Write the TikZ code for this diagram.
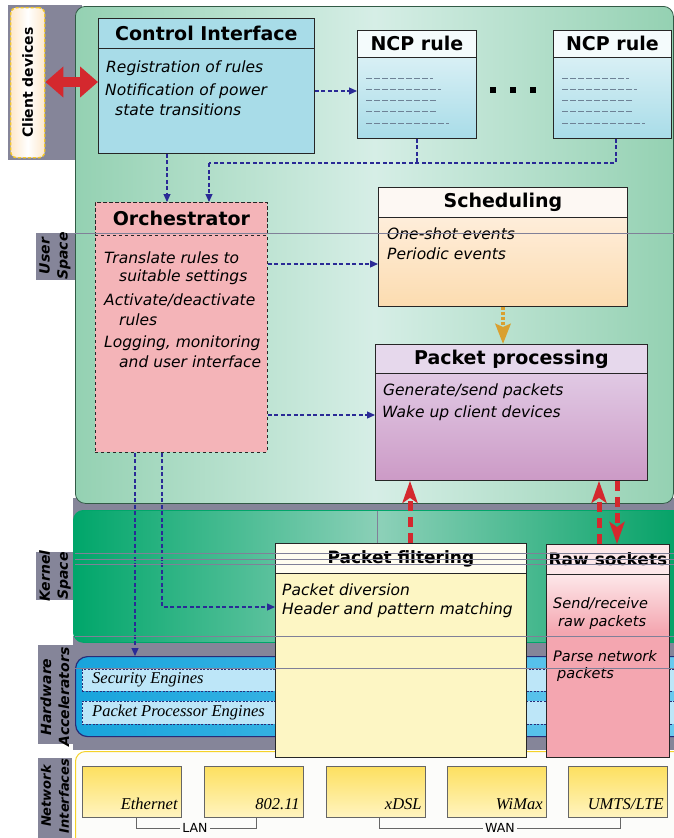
\documentclass[tikz,border=0pt]{standalone}
\usepackage{fontspec}
\setmainfont{DejaVu Sans}
\newfontfamily\serifit{Liberation Serif}
\usetikzlibrary{arrows.meta}
\definecolor{graybg}{RGB}{133,133,153}
\definecolor{ugreen}{RGB}{148,209,178}
\definecolor{ulight}{RGB}{214,238,230}
\definecolor{kgreen}{RGB}{0,166,106}
\definecolor{klight}{RGB}{140,208,184}
\definecolor{kright}{RGB}{0,160,100}
\definecolor{cifill}{RGB}{168,220,232}
\definecolor{ncptop}{RGB}{232,246,249}
\definecolor{ncptitle}{RGB}{244,251,252}
\definecolor{orchfill}{RGB}{244,180,184}
\definecolor{schedtitle}{RGB}{253,248,243}
\definecolor{schedtop}{RGB}{255,243,232}
\definecolor{schedbot}{RGB}{252,220,176}
\definecolor{pptitle}{RGB}{230,216,236}
\definecolor{pptop}{RGB}{230,214,236}
\definecolor{ppbot}{RGB}{204,154,198}
\definecolor{pftitle}{RGB}{255,253,240}
\definecolor{pffill}{RGB}{253,246,196}
\definecolor{rawtitle}{RGB}{253,232,234}
\definecolor{rawlight}{RGB}{252,214,218}
\definecolor{rawpink}{RGB}{244,166,176}
\definecolor{hwleft}{RGB}{24,164,220}
\definecolor{hwright}{RGB}{108,203,240}
\definecolor{hwrow}{RGB}{189,230,248}
\definecolor{navy}{RGB}{40,44,120}
\definecolor{nifill}{RGB}{252,252,250}
\definecolor{niborder}{RGB}{245,210,40}
\definecolor{niftop}{RGB}{253,224,96}
\definecolor{nifbot}{RGB}{255,244,192}
\definecolor{cdborder}{RGB}{245,200,40}
\definecolor{cdedge}{RGB}{253,232,204}
\definecolor{bigred}{RGB}{212,40,46}
\definecolor{arrblue}{RGB}{42,42,150}
\definecolor{orangearr}{RGB}{217,160,48}
\definecolor{ncpline}{RGB}{110,130,150}
\definecolor{artline}{RGB}{128,128,152}
\definecolor{panelline}{RGB}{50,90,70}
\begin{document}
\begin{tikzpicture}[x=1pt,y=-1pt,
  box/.style={draw=black!85, line width=0.8pt, anchor=north west, inner sep=0pt},
  ttl/.style={font=\fontsize{19}{21}\selectfont\bfseries},
  ttlsm/.style={font=\fontsize{17}{19}\selectfont\bfseries},
  txt/.style={font=\fontsize{15.5}{17}\selectfont\itshape, anchor=west, inner sep=0pt},
  txtsm/.style={font=\fontsize{14.5}{16}\selectfont\itshape, anchor=west, inner sep=0pt},
  sidelabel/.style={rotate=90, align=center, inner sep=0pt, font=\fontsize{14}{18}\selectfont\bfseries\itshape, text=black},
  serlabel/.style={font=\fontsize{16.5}{18}\selectfont\serifit\itshape, inner sep=0pt},
  panel/.style={anchor=north west, inner sep=0pt},
  bluedash/.style={draw=arrblue, line width=1.2pt, dash pattern=on 4pt off 2.5pt},
  bluearrow/.style={bluedash, -{Triangle[length=8pt,width=7pt]}},
  redarrow/.style={draw=bigred, line width=5pt, dash pattern=on 10pt off 6pt, -{Stealth[length=22pt,width=15pt,inset=5pt]}},
  orangearrow/.style={draw=orangearr, line width=4.5pt, dash pattern=on 3pt off 2pt, -{Stealth[length=20pt,width=15pt,inset=3pt]}},
  ncpdash/.style={draw=ncpline, line width=0.9pt, dash pattern=on 6pt off 2pt},
  artifact/.style={draw=artline, line width=0.8pt},
  bracket/.style={draw=black!60, line width=0.6pt}
]
\useasboundingbox (0,0) rectangle (674,838);
\fill[white] (0,0) rectangle (674,838);

% gray backgrounds
\fill[graybg] (8,5) rectangle (82,160);
\fill[graybg] (36,233) rectangle (78,280);
\fill[graybg] (73,498) rectangle (674,514);
\fill[graybg] (73,498) rectangle (80,548);
\fill[graybg] (36,552) rectangle (78,600);
\fill[graybg] (73,636) rectangle (674,750);
\fill[graybg] (38,645) rectangle (78,744);
\fill[graybg] (38,758) rectangle (72,838);

% layer panels
\node[panel, draw=panelline, line width=0.8pt, rounded corners=10pt, minimum width=598, minimum height=497,
      left color=ugreen, right color=ugreen, middle color=ulight] (user) at (75,6) {};
\node[panel, draw=kgreen, line width=0.8pt, rounded corners=10pt, minimum width=615, minimum height=132,
      left color=kgreen, right color=kright, middle color=klight] (kernel) at (73,510) {};
\node[panel, draw=navy, line width=1.2pt, rounded corners=12pt, minimum width=615, minimum height=80,
      left color=hwleft, right color=hwright] (hw) at (75,656) {};
\node[panel, draw=navy, line width=0.7pt, dash pattern=on 2pt off 1.5pt, fill=hwrow, minimum width=600, minimum height=22] (sec) at (82,669) {};
\node[panel, draw=navy, line width=0.7pt, dash pattern=on 2pt off 1.5pt, fill=hwrow, minimum width=600, minimum height=23] (ppe) at (82,701) {};
\node[serlabel, anchor=west] (sect) at (92,680) {Security Engines};
\node[serlabel, anchor=west] (ppet) at (92,713) {Packet Processor Engines};

\node[panel, draw=niborder, line width=1pt, rounded corners=10pt, fill=nifill, minimum width=615, minimum height=100] (ni) at (75,751) {};

% network interfaces
\foreach \nm/\xx/\lab in {eth/82/{Ethernet}, wifi/204/{802.11}, xdsl/326/{xDSL}, wimax/447/{WiMax}, umts/568/{UMTS/LTE}}{
  \node[panel, draw=black!60, line width=0.8pt, top color=niftop, bottom color=nifbot, minimum width=99, minimum height=51] (\nm) at (\xx,766) {};
  \node[serlabel, anchor=base east] (\nm t) at ([xshift=-4pt,yshift=8pt]\nm.south east) {\lab};
}
\node[font=\fontsize{12.5}{14}\selectfont, inner sep=2pt, fill=nifill] (lan) at (195,828) {LAN};
\node[font=\fontsize{12.5}{14}\selectfont, inner sep=2pt, fill=nifill] (wan) at (500,828) {WAN};
\draw[bracket] ([xshift=4pt]eth.south) |- (lan.west);
\draw[bracket] ([xshift=2pt]wifi.south) |- (lan.east);
\draw[bracket] ([xshift=3pt]xdsl.south) |- (wan.west);
\draw[bracket] ([xshift=2pt]umts.south) |- (wan.east);

% client devices
\node[panel, draw=cdborder, line width=1.4pt, dash pattern=on 3pt off 2pt, rounded corners=6pt,
      left color=cdedge, right color=cdedge, middle color=white, minimum width=34, minimum height=150] (cd) at (10,7) {};
\node[rotate=90, font=\fontsize{14}{16}\selectfont\bfseries] (cdt) at (cd.center) {Client devices};

% side labels
\node[sidelabel] (usl) at (55,256) {User\\Space};
\node[sidelabel] (ksl) at (55,576) {Kernel\\Space};
\node[sidelabel] (hsl) at (55,697) {Hardware\\Accelerators};
\node[sidelabel, font=\fontsize{13}{18}\selectfont\bfseries\itshape] (nsl) at (55,796) {Network\\Interfaces};

% Control Interface
\node[box, fill=cifill, minimum width=216, minimum height=135] (ci) at (98,18) {};
\node[box, ttl, fill=cifill, minimum width=216, minimum height=30] (citl) at (98,18) {Control Interface};
\node[txt] (ci1) at (106,68) {Registration of rules};
\node[txt] (ci2) at (105,91) {Notification of power};
\node[txt] (ci3) at (115,110) {state transitions};

% NCP rules
\node[box, top color=ncptop, bottom color=cifill, minimum width=119, minimum height=108] (ncp1) at (357,30) {};
\node[box, ttl, fill=ncptitle, minimum width=119, minimum height=27] (ncp1t) at (357,30) {NCP rule};
\node[box, top color=ncptop, bottom color=cifill, minimum width=118, minimum height=108] (ncp2) at (553,30) {};
\node[box, ttl, fill=ncptitle, minimum width=118, minimum height=27] (ncp2t) at (553,30) {NCP rule};
\foreach \yy/\ll in {78/67,89/75,100/70,111/70,123/83}{
  \draw[ncpdash] (366,\yy) -- ++(\ll,0);
  \draw[ncpdash] (562,\yy) -- ++(\ll,0);
}
\fill (490,87) rectangle ++(6,6);
\fill (510,87) rectangle ++(6,6);
\fill (530,87) rectangle ++(6,6);

% Orchestrator
\node[box, dashed, fill=orchfill, minimum width=172, minimum height=250] (orch) at (95,202) {};
\node[box, dashed, ttl, minimum width=172, minimum height=33] (orcht) at (95,202) {Orchestrator};
\node[txt] (o1) at (104,258) {Translate rules to};
\node[txt] (o2) at (119,277) {suitable settings};
\node[txt] (o3) at (104,300) {Activate/deactivate};
\node[txt] (o4) at (119,320) {rules};
\node[txt] (o5) at (104,343) {Logging, monitoring};
\node[txt] (o6) at (119,362) {and user interface};

% Scheduling
\node[box, top color=schedtop, bottom color=schedbot, minimum width=249, minimum height=119] (sched) at (378,187) {};
\node[box, ttl, fill=schedtitle, minimum width=249, minimum height=30] (schedt) at (378,187) {Scheduling};
\node[txt] (s1) at (387,234) {One-shot events};
\node[txt] (s2) at (387,254) {Periodic events};

% Packet processing
\node[box, top color=pptop, bottom color=ppbot, minimum width=272, minimum height=136] (pp) at (375,344) {};
\node[box, ttl, fill=pptitle, minimum width=272, minimum height=29] (ppt) at (375,344) {Packet processing};
\node[txt] (p1) at (383,391) {Generate/send packets};
\node[txt] (p2) at (382,413) {Wake up client devices};

% Packet filtering
\node[box, fill=pffill, minimum width=251, minimum height=214] (pf) at (275,543) {};
\node[box, ttlsm, fill=pftitle, minimum width=251, minimum height=30] (pft) at (275,543) {Packet filtering};
\node[txt] (f1) at (282,590) {Packet diversion};
\node[txt] (f2) at (282,610) {Header and pattern matching};

% Raw sockets
\node[box, fill=rawpink, minimum width=123, minimum height=213] (raw) at (546,544) {};
\shade[top color=rawtitle, bottom color=rawpink] (547,574) rectangle (668.5,632);
\node[box, ttlsm, fill=rawtitle, minimum width=123, minimum height=30] (rawt) at (546,544) {Raw sockets};
\node[txtsm] (r1) at (553,604) {Send/receive};
\node[txtsm] (r2) at (558,622) {raw packets};
\node[txtsm] (r3) at (553,656) {Parse network};
\node[txtsm] (r4) at (557,674) {packets};

% connectors
\draw[{Triangle[length=18pt,width=30pt]}-{Triangle[length=18pt,width=30pt]}, draw=bigred, line width=10pt] (cd.east |- 0,82) -- (ci.west |- 0,82);
\draw[bluearrow] (ci.east |- 0,91) -- (ncp1.west |- 0,91);
\draw[bluearrow] (ci.south -| 167,0) -- (orch.north -| 167,0);
\coordinate (join) at (209,163);
\draw[bluedash] (ncp1.south) -- (ncp1.south |- join);
\draw[bluedash] (ncp2.south -| 616,0) |- (join);
\draw[bluearrow] (join) -- (orch.north -| join);
\draw[bluearrow] (orch.east |- 0,264) -- (sched.west |- 0,264);
\draw[bluearrow] (orch.east |- 0,415) -- (pp.west |- 0,415);
\draw[bluearrow] (orch.south -| 135,0) -- (hw.north -| 135,0);
\draw[bluearrow] (orch.south -| 162,0) |- (pf.west |- 0,607);
\draw[orangearrow] (sched.south -| 503,0) -- (pp.north -| 503,0);
\draw[redarrow] (pf.north -| 410,0) -- (pp.south -| 410,0);
\draw[redarrow] (raw.north -| 599,0) -- (pp.south -| 599,0);
\draw[redarrow] (pp.south -| 617,0) -- (raw.north -| 617,0);

% rendering artifact lines of the original
\draw[artifact] (75,233) -- (674,233);
\draw[artifact] (377,511) -- (377,543);
\draw[artifact] (75,553) -- (674,553);
\draw[artifact] (75,559) -- (674,559);
\draw[artifact] (75,564) -- (674,564);
\draw[artifact] (75,636) -- (674,636);
\draw[artifact] (75,668) -- (674,668);
\end{tikzpicture}
\end{document}
